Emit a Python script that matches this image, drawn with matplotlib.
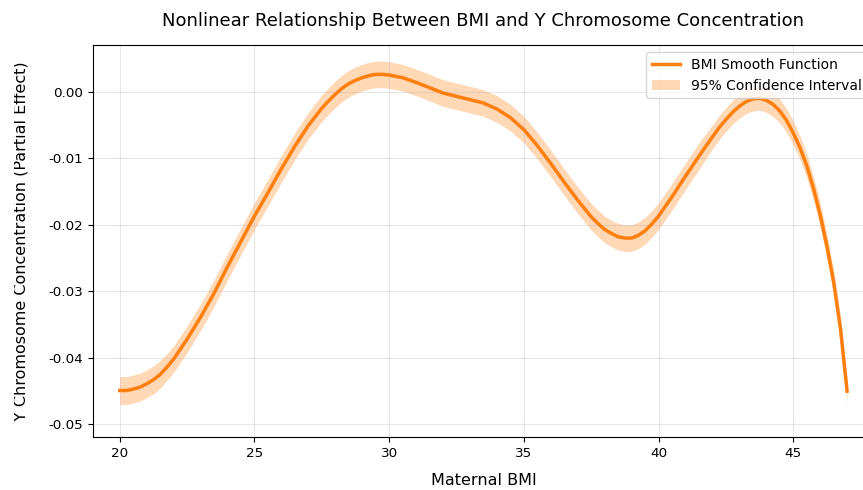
import numpy as np
import matplotlib
matplotlib.use("Agg")
import matplotlib.pyplot as plt
from matplotlib.transforms import Bbox, TransformedBbox

# fitted smooth term for maternal BMI (partial effect) and its CI half-width
bmi = [20.0, 20.25, 20.5, 20.75, 21.0, 21.25, 21.5, 21.75, 22.0, 22.5,
       23.0, 23.5, 24.0, 24.5, 25.0, 25.5, 26.0, 26.5, 27.0, 27.5,
       27.75, 28.0, 28.25, 28.5, 28.75, 29.0, 29.25, 29.5, 29.75, 30.0,
       30.25, 30.5, 31.0, 31.5, 32.0, 32.5, 33.0, 33.5, 34.0, 34.5,
       35.0, 35.5, 36.0, 36.5, 37.0, 37.5, 37.75, 38.0, 38.25, 38.5,
       38.75, 39.0, 39.25, 39.5, 39.75, 40.0, 40.5, 41.0, 41.5, 42.0,
       42.25, 42.5, 42.75, 43.0, 43.25, 43.5, 43.75, 44.0, 44.25, 44.5,
       44.75, 45.0, 45.25, 45.5, 45.75, 46.0, 46.25, 46.5, 46.75, 47.0]
effect = [-0.0449, -0.0449, -0.0447, -0.0444, -0.0439, -0.0433, -0.0425, -0.0414, -0.0402, -0.0372,
          -0.0339, -0.0303, -0.0263, -0.0225, -0.0187, -0.0152, -0.0116, -0.0082, -0.0051, -0.0025,
          -0.0014, -0.0004, 0.0005, 0.0012, 0.0017, 0.0021, 0.0024, 0.0026, 0.0026, 0.0025,
          0.0023, 0.0021, 0.0014, 0.0006, -0.0002, -0.0007, -0.0012, -0.0017, -0.0026, -0.0039,
          -0.0057, -0.0081, -0.0108, -0.0136, -0.0163, -0.0188, -0.0198, -0.0207, -0.0213, -0.0218,
          -0.0220, -0.0220, -0.0216, -0.0209, -0.0199, -0.0187, -0.0158, -0.0127, -0.0097, -0.0068,
          -0.0054, -0.0042, -0.0031, -0.0022, -0.0015, -0.0011, -0.0010, -0.0013, -0.0019, -0.0029,
          -0.0043, -0.0062, -0.0084, -0.0111, -0.0145, -0.0185, -0.0232, -0.0286, -0.0355, -0.0450]
ci_half = [0.0021, 0.0021, 0.0021, 0.0021, 0.0021, 0.0021, 0.0021, 0.0020, 0.0020, 0.0020,
           0.0020, 0.0020, 0.0020, 0.0020, 0.0020, 0.0020, 0.0020, 0.0020, 0.0020, 0.0020,
           0.0020, 0.0020, 0.0020, 0.0020, 0.0020, 0.0020, 0.0020, 0.0020, 0.0020, 0.0020,
           0.0020, 0.0020, 0.0020, 0.0020, 0.0020, 0.0020, 0.0020, 0.0020, 0.0020, 0.0020,
           0.0020, 0.0020, 0.0020, 0.0020, 0.0020, 0.0020, 0.0020, 0.0020, 0.0020, 0.0020,
           0.0020, 0.0020, 0.0020, 0.0020, 0.0020, 0.0020, 0.0020, 0.0020, 0.0020, 0.0018,
           0.0018, 0.0018, 0.0018, 0.0018, 0.0018, 0.0018, 0.0018, 0.0018, 0.0018, 0.0018,
           0.0018, 0.0018, 0.0018, 0.0018, 0.0018, 0.0018, 0.0018, 0.0018, 0.0018, 0.0018]

x = np.array(bmi)
y = np.array(effect)
h = np.array(ci_half)

fig = plt.figure(figsize=(8.63, 4.9), dpi=100)
# axes run slightly past the right edge of the canvas
ax = fig.add_axes([0.1075, 0.108, 0.9053, 0.8])

ax.fill_between(x, y - h, y + h, color="#ff7f0e", alpha=0.3, linewidth=0,
                label="95% Confidence Interval")
ax.plot(x, y, color="#ff7f0e", linewidth=2.5, label="BMI Smooth Function")

ax.set_xlim(19, 48)
ax.set_ylim(-0.0519, 0.0070)
ax.set_xticks([20, 25, 30, 35, 40, 45])
ax.set_yticks([-0.05, -0.04, -0.03, -0.02, -0.01, 0.0])
ax.yaxis.set_major_formatter(matplotlib.ticker.FormatStrFormatter("%.2f"))
ax.tick_params(labelsize=9.7)
ax.grid(True, alpha=0.3)

ax.set_title("Nonlinear Relationship Between BMI and Y Chromosome Concentration",
             fontsize=13, pad=14)
ax.set_xlabel("Maternal BMI", fontsize=11.5, labelpad=9.5)
ax.set_ylabel("Y Chromosome Concentration (Partial Effect)", fontsize=11.5)
ax.yaxis.set_label_coords(-0.0819, 0.5)
# left strip of the canvas is blank, so the label gets trimmed there
ax.yaxis.label.set_clip_box(TransformedBbox(Bbox([[13.5 / 863, 0], [1, 1]]), fig.transFigure))

handles, labels = ax.get_legend_handles_labels()
ax.legend(handles[::-1], labels[::-1], loc="upper right", fontsize=10)

fig.savefig("out.png", dpi=100)
